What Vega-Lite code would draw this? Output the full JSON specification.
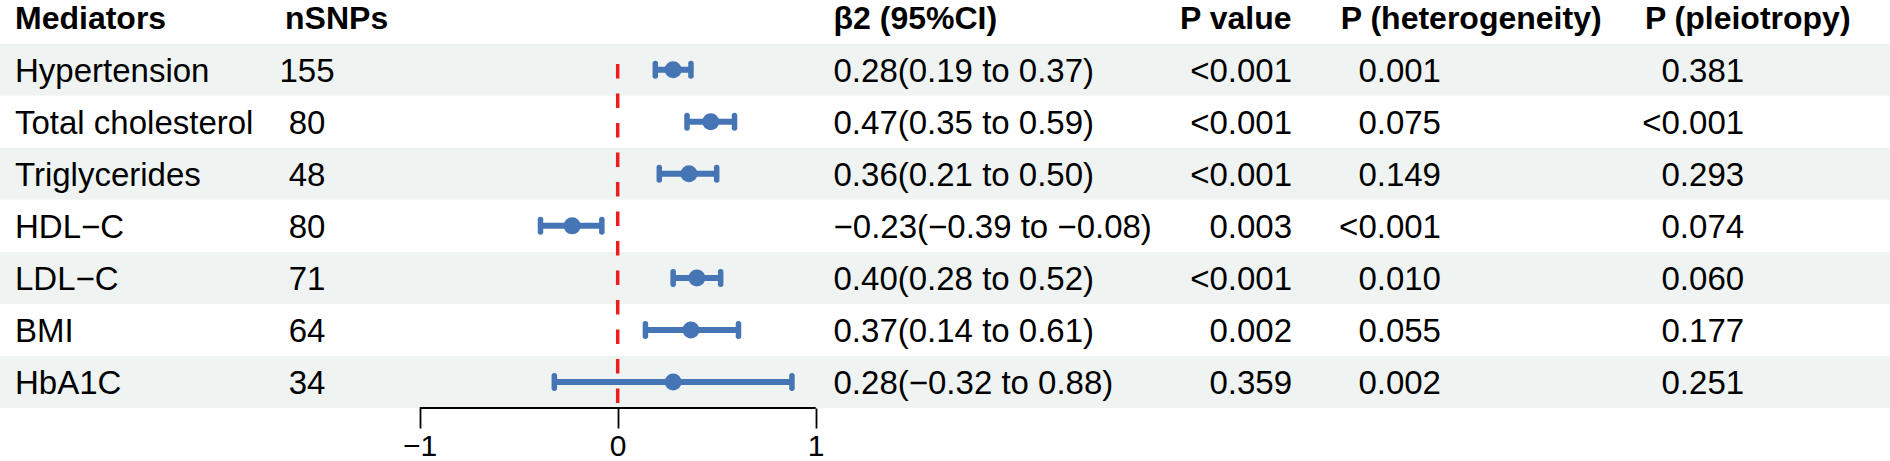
{
  "$schema": "https://vega.github.io/schema/vega-lite/v6.json",
  "width": 1890,
  "height": 408,
  "autosize": {"type": "none"},
  "padding": {"left": 0, "top": 0, "right": 0, "bottom": 53},
  "background": "white",
  "config": {"view": {"stroke": null}, "font": "Liberation Sans", "axisY": {"disable": true}},
  "datasets": {
    "rows": [
      {"row": 1, "mediator": "Hypertension", "nsnps": "155", "est": 0.28, "lo": 0.19, "hi": 0.37, "ci": "0.28(0.19 to 0.37)", "p": "<0.001", "phet": "0.001", "pple": "0.381"},
      {"row": 2, "mediator": "Total cholesterol", "nsnps": "80", "est": 0.47, "lo": 0.35, "hi": 0.59, "ci": "0.47(0.35 to 0.59)", "p": "<0.001", "phet": "0.075", "pple": "<0.001"},
      {"row": 3, "mediator": "Triglycerides", "nsnps": "48", "est": 0.36, "lo": 0.21, "hi": 0.50, "ci": "0.36(0.21 to 0.50)", "p": "<0.001", "phet": "0.149", "pple": "0.293"},
      {"row": 4, "mediator": "HDL−C", "nsnps": "80", "est": -0.23, "lo": -0.39, "hi": -0.08, "ci": "−0.23(−0.39 to −0.08)", "p": "0.003", "phet": "<0.001", "pple": "0.074"},
      {"row": 5, "mediator": "LDL−C", "nsnps": "71", "est": 0.40, "lo": 0.28, "hi": 0.52, "ci": "0.40(0.28 to 0.52)", "p": "<0.001", "phet": "0.010", "pple": "0.060"},
      {"row": 6, "mediator": "BMI", "nsnps": "64", "est": 0.37, "lo": 0.14, "hi": 0.61, "ci": "0.37(0.14 to 0.61)", "p": "0.002", "phet": "0.055", "pple": "0.177"},
      {"row": 7, "mediator": "HbA1C", "nsnps": "34", "est": 0.28, "lo": -0.32, "hi": 0.88, "ci": "0.28(−0.32 to 0.88)", "p": "0.359", "phet": "0.002", "pple": "0.251"}
    ],
    "headers": [
      {"key": "mediator", "label": "Mediators"},
      {"key": "nsnps", "label": "nSNPs"},
      {"key": "ci", "label": "β2 (95%CI)"},
      {"key": "p", "label": "P value"},
      {"key": "phet", "label": "P (heterogeneity)"},
      {"key": "pple", "label": "P (pleiotropy)"}
    ],
    "one": [{}]
  },
  "layer": [
    {
      "data": {"name": "rows"},
      "transform": [{"filter": "datum.row % 2 === 1"}],
      "mark": {"type": "rule", "color": "#eff3f2", "strokeWidth": 52.04, "strokeCap": "butt"},
      "encoding": {
        "x": {"datum": -3.1197, "type": "quantitative", "scale": {"domain": [-3.1197, 6.4258], "nice": false, "zero": false},
              "axis": {"values": [-1, 0, 1], "format": "d", "title": null, "domain": false, "grid": false, "ticks": true, "tickSize": 20, "tickWidth": 1.8, "tickColor": "black", "labelFontSize": 30, "labelColor": "black", "labelFont": "Liberation Sans", "labelPadding": 3, "labelFlush": false, "labelOverlap": false}},
        "x2": {"datum": 6.4258},
        "y": {"field": "row", "type": "quantitative", "scale": {"domain": [-0.34, 7.5], "reverse": true, "nice": false, "zero": false}, "axis": null}
      }
    },
    {
      "data": {"name": "one"},
      "mark": {"type": "rule", "color": "#ee1c1c", "strokeWidth": 3.5, "strokeDash": [14.5, 15], "strokeCap": "butt"},
      "encoding": {
        "x": {"datum": 0, "type": "quantitative"},
        "y": {"datum": 0.89, "type": "quantitative", "axis": null},
        "y2": {"datum": 7.5}
      }
    },
    {
      "data": {"name": "one"},
      "mark": {"type": "rule", "color": "black", "strokeWidth": 1.8},
      "encoding": {
        "x": {"datum": -1, "type": "quantitative"},
        "x2": {"datum": 1},
        "y": {"datum": 7.5, "type": "quantitative", "axis": null}
      }
    },
    {
      "data": {"name": "rows"},
      "mark": {"type": "rule", "color": "#4575b4", "strokeWidth": 6, "strokeCap": "butt"},
      "encoding": {
        "x": {"field": "lo", "type": "quantitative"},
        "x2": {"field": "hi"},
        "y": {"field": "row", "type": "quantitative", "axis": null}
      }
    },
    {
      "data": {"name": "rows"},
      "mark": {"type": "tick", "orient": "vertical", "size": 18, "thickness": 5.5, "color": "#4575b4", "opacity": 1, "cornerRadius": 2.5},
      "encoding": {
        "x": {"field": "lo", "type": "quantitative"},
        "y": {"field": "row", "type": "quantitative", "axis": null}
      }
    },
    {
      "data": {"name": "rows"},
      "mark": {"type": "tick", "orient": "vertical", "size": 18, "thickness": 5.5, "color": "#4575b4", "opacity": 1, "cornerRadius": 2.5},
      "encoding": {
        "x": {"field": "hi", "type": "quantitative"},
        "y": {"field": "row", "type": "quantitative", "axis": null}
      }
    },
    {
      "data": {"name": "rows"},
      "mark": {"type": "circle", "size": 290, "color": "#4575b4", "opacity": 1},
      "encoding": {
        "x": {"field": "est", "type": "quantitative"},
        "y": {"field": "row", "type": "quantitative", "axis": null}
      }
    },
    {
      "data": {"name": "rows"},
      "mark": {"type": "text", "align": "left", "baseline": "alphabetic", "dy": 12, "fontSize": 33, "color": "black"},
      "encoding": {
        "x": {"datum": -3.044, "type": "quantitative"},
        "y": {"field": "row", "type": "quantitative", "axis": null},
        "text": {"field": "mediator"}
      }
    },
    {
      "data": {"name": "rows"},
      "mark": {"type": "text", "align": "center", "baseline": "alphabetic", "dy": 12, "fontSize": 33, "color": "black"},
      "encoding": {
        "x": {"datum": -1.569, "type": "quantitative"},
        "y": {"field": "row", "type": "quantitative", "axis": null},
        "text": {"field": "nsnps"}
      }
    },
    {
      "data": {"name": "rows"},
      "mark": {"type": "text", "align": "left", "baseline": "alphabetic", "dy": 12, "fontSize": 33, "color": "black"},
      "encoding": {
        "x": {"datum": 1.09, "type": "quantitative"},
        "y": {"field": "row", "type": "quantitative", "axis": null},
        "text": {"field": "ci"}
      }
    },
    {
      "data": {"name": "rows"},
      "mark": {"type": "text", "align": "right", "baseline": "alphabetic", "dy": 12, "fontSize": 33, "color": "black"},
      "encoding": {
        "x": {"datum": 3.406, "type": "quantitative"},
        "y": {"field": "row", "type": "quantitative", "axis": null},
        "text": {"field": "p"}
      }
    },
    {
      "data": {"name": "rows"},
      "mark": {"type": "text", "align": "right", "baseline": "alphabetic", "dy": 12, "fontSize": 33, "color": "black"},
      "encoding": {
        "x": {"datum": 4.158, "type": "quantitative"},
        "y": {"field": "row", "type": "quantitative", "axis": null},
        "text": {"field": "phet"}
      }
    },
    {
      "data": {"name": "rows"},
      "mark": {"type": "text", "align": "right", "baseline": "alphabetic", "dy": 12, "fontSize": 33, "color": "black"},
      "encoding": {
        "x": {"datum": 5.689, "type": "quantitative"},
        "y": {"field": "row", "type": "quantitative", "axis": null},
        "text": {"field": "pple"}
      }
    },
    {
      "data": {"name": "headers"},
      "transform": [{"filter": "datum.key === 'mediator'"}],
      "mark": {"type": "text", "align": "left", "baseline": "alphabetic", "dy": 11.5, "fontSize": 32, "fontWeight": "bold", "color": "black"},
      "encoding": {
        "x": {"datum": -3.044, "type": "quantitative"},
        "y": {"datum": 0, "type": "quantitative", "axis": null},
        "text": {"field": "label"}
      }
    },
    {
      "data": {"name": "headers"},
      "transform": [{"filter": "datum.key === 'nsnps'"}],
      "mark": {"type": "text", "align": "left", "baseline": "alphabetic", "dy": 11.5, "fontSize": 32, "fontWeight": "bold", "color": "black"},
      "encoding": {
        "x": {"datum": -1.68, "type": "quantitative"},
        "y": {"datum": 0, "type": "quantitative", "axis": null},
        "text": {"field": "label"}
      }
    },
    {
      "data": {"name": "headers"},
      "transform": [{"filter": "datum.key === 'ci'"}],
      "mark": {"type": "text", "align": "left", "baseline": "alphabetic", "dy": 11.5, "fontSize": 32, "fontWeight": "bold", "color": "black"},
      "encoding": {
        "x": {"datum": 1.09, "type": "quantitative"},
        "y": {"datum": 0, "type": "quantitative", "axis": null},
        "text": {"field": "label"}
      }
    },
    {
      "data": {"name": "headers"},
      "transform": [{"filter": "datum.key === 'p'"}],
      "mark": {"type": "text", "align": "left", "baseline": "alphabetic", "dy": 11.5, "fontSize": 32, "fontWeight": "bold", "color": "black"},
      "encoding": {
        "x": {"datum": 2.84, "type": "quantitative"},
        "y": {"datum": 0, "type": "quantitative", "axis": null},
        "text": {"field": "label"}
      }
    },
    {
      "data": {"name": "headers"},
      "transform": [{"filter": "datum.key === 'phet'"}],
      "mark": {"type": "text", "align": "left", "baseline": "alphabetic", "dy": 11.5, "fontSize": 32, "fontWeight": "bold", "color": "black"},
      "encoding": {
        "x": {"datum": 3.652, "type": "quantitative"},
        "y": {"datum": 0, "type": "quantitative", "axis": null},
        "text": {"field": "label"}
      }
    },
    {
      "data": {"name": "headers"},
      "transform": [{"filter": "datum.key === 'pple'"}],
      "mark": {"type": "text", "align": "left", "baseline": "alphabetic", "dy": 11.5, "fontSize": 32, "fontWeight": "bold", "color": "black"},
      "encoding": {
        "x": {"datum": 5.188, "type": "quantitative"},
        "y": {"datum": 0, "type": "quantitative", "axis": null},
        "text": {"field": "label"}
      }
    }
  ]
}
